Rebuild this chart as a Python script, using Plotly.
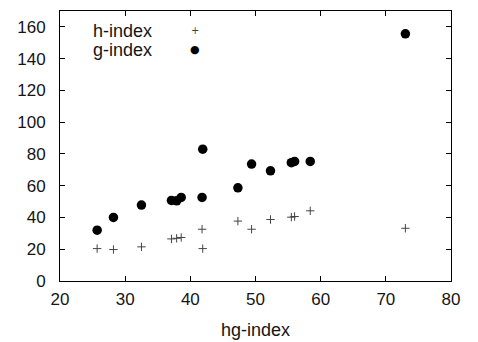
import plotly.graph_objects as go

hg = [25.7, 28.2, 32.5, 37.1, 37.9, 38.6, 41.8, 41.9, 47.3, 49.4, 52.3, 55.5, 56.0, 58.4, 73.0]
h_index = [20.4, 19.8, 21.5, 26.5, 26.9, 27.4, 32.6, 20.4, 37.7, 32.6, 38.7, 40.2, 40.6, 44.2, 33.2]
g_index = [32.0, 40.0, 47.8, 50.7, 50.5, 52.6, 52.6, 83.0, 58.7, 73.6, 69.4, 74.5, 75.3, 75.3, 155.6]

x_ticks = [20, 30, 40, 50, 60, 70, 80]
y_ticks = [0, 20, 40, 60, 80, 100, 120, 140, 160]

FONT = "Liberation Sans, Arial, sans-serif"
TXT = "#151515"

fig = go.Figure()
fig.add_trace(go.Scatter(x=hg, y=h_index, mode="markers", name="h-index",
                         marker=dict(symbol="cross-thin", size=6,
                                     line=dict(width=1, color="#444444"), color="#444444")))
fig.add_trace(go.Scatter(x=hg, y=g_index, mode="markers", name="g-index",
                         marker=dict(symbol="circle", size=9.5, color="black")))

axis_common = dict(showline=True, linecolor="black", linewidth=1, mirror="allticks",
                   ticks="inside", ticklen=5, tickcolor="black", showgrid=False, zeroline=False,
                   automargin=False,
                   tickfont=dict(family=FONT, size=17, color=TXT))

fig.update_xaxes(range=[20, 80], tickvals=x_ticks, ticklabelstandoff=3,
                 title=dict(text="hg-index", font=dict(family=FONT, size=18, color=TXT), standoff=14),
                 **axis_common)
fig.update_yaxes(range=[0, 170], tickvals=y_ticks, ticklabelstandoff=10, **axis_common)

# gnuplot-style key: text then sample on the right
fig.add_annotation(xref="paper", yref="paper", x=0.241, y=0.925, xanchor="right", yanchor="middle",
                   text="h-index", showarrow=False, font=dict(family=FONT, size=18, color=TXT))
fig.add_annotation(xref="paper", yref="paper", x=0.241, y=0.855, xanchor="right", yanchor="middle",
                   text="g-index", showarrow=False, font=dict(family=FONT, size=18, color=TXT))
fig.add_annotation(xref="paper", yref="paper", x=0.344, y=0.928, xanchor="center", yanchor="middle",
                   text="+", showarrow=False, font=dict(family="DejaVu Sans", size=10, color="#444444"))
fig.add_annotation(xref="paper", yref="paper", x=0.344, y=0.858, xanchor="center", yanchor="middle",
                   text="●", showarrow=False, font=dict(family="DejaVu Sans", size=11, color="black"))

fig.update_layout(width=478, height=342, showlegend=False,
                  margin=dict(l=60, r=27, t=11, b=61),
                  plot_bgcolor="white", paper_bgcolor="white")

fig.write_html("out.html", config={"displayModeBar": False},
               post_script="document.body.style.margin='0';document.body.style.overflow='hidden';")
